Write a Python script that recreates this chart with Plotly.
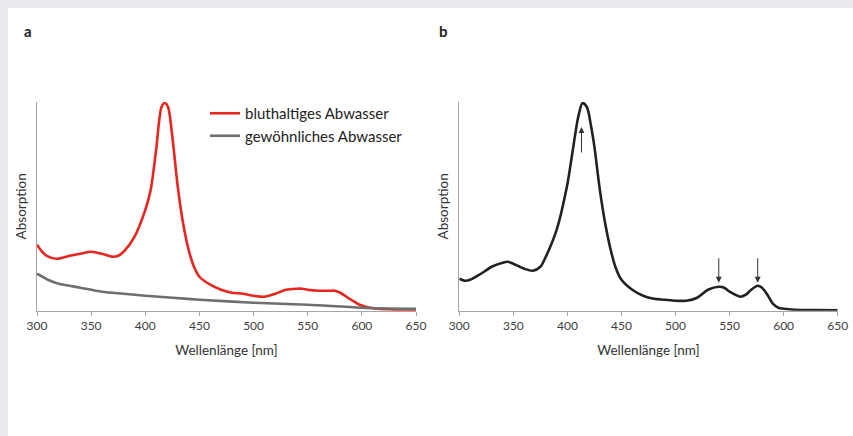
import plotly.graph_objects as go

# ---- data (arbitrary absorption units) ----
wl_blood = [300, 304, 309, 318, 330, 340, 350, 360, 370, 375, 380, 390, 400, 405, 410, 415, 418,
            421, 425, 430, 435, 440, 445, 450, 460, 470, 480, 490, 500, 510, 520, 530, 540, 545,
            550, 560, 570, 575, 580, 590, 598, 605, 615, 630, 650]
abs_blood = [0.66, 0.60, 0.55, 0.52, 0.55, 0.57, 0.59, 0.57, 0.54, 0.55, 0.59, 0.74, 1.01, 1.21,
             1.61, 2.04, 2.08, 2.04, 1.74, 1.24, 0.87, 0.61, 0.44, 0.34, 0.26, 0.21, 0.18, 0.17,
             0.15, 0.14, 0.17, 0.21, 0.22, 0.22, 0.21, 0.20, 0.20, 0.20, 0.18, 0.11, 0.06, 0.035,
             0.02, 0.01, 0.0]

wl_normal = [300, 305, 310, 320, 330, 340, 360, 380, 400, 425, 450, 500, 550, 600, 650]
abs_normal = [0.37, 0.34, 0.31, 0.27, 0.25, 0.23, 0.19, 0.17, 0.15, 0.13, 0.11, 0.08, 0.06, 0.03, 0.02]

wl_b = [300, 305, 310, 320, 330, 340, 345, 350, 360, 368, 375, 380, 390, 400, 405, 410, 414, 418,
        422, 425, 430, 435, 440, 445, 450, 460, 470, 480, 490, 500, 510, 520, 530, 540, 545, 550,
        560, 565, 570, 576, 580, 585, 590, 595, 600, 610, 630, 650]
abs_b = [0.32, 0.30, 0.31, 0.37, 0.44, 0.48, 0.49, 0.47, 0.42, 0.40, 0.44, 0.54, 0.81, 1.27, 1.61,
         1.94, 2.08, 2.04, 1.84, 1.64, 1.21, 0.87, 0.61, 0.42, 0.31, 0.21, 0.15, 0.12, 0.11, 0.10,
         0.10, 0.13, 0.21, 0.24, 0.23, 0.19, 0.14, 0.16, 0.21, 0.25, 0.23, 0.16, 0.07, 0.03, 0.02,
         0.01, 0.007, 0.003]

# arrows in panel b: (x, tail y, head y)
arrows_b = [(413, 1.57, 1.84), (540, 0.54, 0.28), (576, 0.54, 0.28)]

tick_vals = [300, 350, 400, 450, 500, 550, 600, 650]
x_title = "Wellenlänge [nm]"
y_title = "Absorption"
names = ["bluthaltiges Abwasser", "gewöhnliches Abwasser"]

W, H = 853, 436
FONT = "Lato"

fig = go.Figure()
fig.add_trace(go.Scatter(x=wl_blood, y=abs_blood, mode="lines", name=names[0],
                         line=dict(color="#e8261e", width=2.6, shape="spline", smoothing=0.8),
                         xaxis="x", yaxis="y"))
fig.add_trace(go.Scatter(x=wl_normal, y=abs_normal, mode="lines", name=names[1],
                         line=dict(color="#6e6e6e", width=2.6, shape="spline", smoothing=0.8),
                         xaxis="x", yaxis="y"))
fig.add_trace(go.Scatter(x=wl_b, y=abs_b, mode="lines", showlegend=False,
                         line=dict(color="#222222", width=2.6, shape="spline", smoothing=0.8),
                         xaxis="x2", yaxis="y2"))

ydom = [(H - 310.7) / H, (H - 102) / H]
common_x = dict(range=[300, 650], tickvals=tick_vals, showline=True, linecolor="#a6a6a6",
                linewidth=1.3, ticks="outside", ticklen=4, tickcolor="#a6a6a6", showgrid=False,
                zeroline=False, automargin=False,
                tickfont=dict(family=FONT, size=12, color="#404040"),
                title=dict(text=x_title, font=dict(family=FONT, size=13.5, color="#333333"),
                           standoff=13))
common_y = dict(range=[0, 2.09], showline=True, linecolor="#a6a6a6", linewidth=1.3,
                showticklabels=False, ticks="", showgrid=False, zeroline=False, automargin=False,
                title=dict(text=y_title, font=dict(family=FONT, size=13.5, color="#333333"),
                           standoff=6))

fig.update_layout(
    width=W, height=H, autosize=False,
    margin=dict(l=0, r=0, t=0, b=0),
    paper_bgcolor="white", plot_bgcolor="white",
    xaxis=dict(domain=[37 / W, 416 / W], anchor="y", **common_x),
    yaxis=dict(domain=ydom, anchor="x", **common_y),
    xaxis2=dict(domain=[459.3 / W, 837.7 / W], anchor="y2", **common_x),
    yaxis2=dict(domain=ydom, anchor="x2", **common_y),
    legend=dict(x=205 / W, y=(H - 97) / H, xanchor="left", yanchor="top",
                bgcolor="rgba(0,0,0,0)", font=dict(family=FONT, size=15, color="#222222"),
                itemwidth=30, tracegroupgap=0),
    showlegend=True,
)

# grey frame strips (page background)
fig.add_shape(type="rect", xref="paper", yref="paper", x0=0, x1=8 / W, y0=0, y1=1,
              fillcolor="#e9eaed", line_width=0, layer="below")
fig.add_shape(type="rect", xref="paper", yref="paper", x0=0, x1=1, y0=(H - 8) / H, y1=1,
              fillcolor="#e9eaed", line_width=0, layer="below")

# panel letters
for txt, px in [("a", 28), ("b", 443)]:
    fig.add_annotation(text=f"<b>{txt}</b>", xref="paper", yref="paper", x=px / W,
                       y=(H - 31) / H, showarrow=False, xanchor="center", yanchor="middle",
                       font=dict(family=FONT, size=15, color="#222222"))

for xa, y_tail, y_head in arrows_b:
    fig.add_annotation(x=xa, y=y_head, ax=xa, ay=y_tail, xref="x2", yref="y2",
                       axref="x2", ayref="y2", text="", showarrow=True, arrowhead=2,
                       arrowsize=1.2, arrowwidth=1, arrowcolor="#333333")

fig.write_html("out.html", config={"displayModeBar": False},
               post_script="document.body.style.margin='0';document.body.style.overflow='hidden';")
